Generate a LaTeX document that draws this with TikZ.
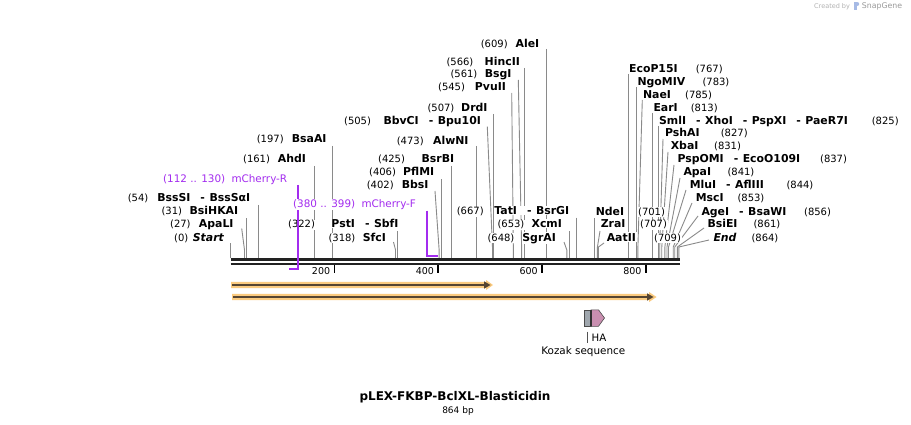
\documentclass[tikz,border=0pt]{standalone}
\usepackage{fontspec}
\setmainfont{DejaVu Sans}
\pgfdeclarelayer{bg}
\pgfsetlayers{bg,main}
\definecolor{leadgray}{HTML}{8A8A8A}
\definecolor{primer}{HTML}{A32CEF}
\definecolor{featorange}{HTML}{FBCB80}
\definecolor{featdark}{HTML}{564532}
\definecolor{kozak}{HTML}{A0A7AE}
\definecolor{hapink}{HTML}{C98FB0}
\definecolor{backbone}{HTML}{222222}
\newcommand{\sx}[1]{230.5+0.519*#1}
\newcommand{\dsh}{\hspace{10pt}-\hspace{4.5pt}}
% left-side enzyme label: id, y, numx, num, nameR, name, px, py, bp
\newcommand{\Lenz}[9]{%
  \node[numtxt, anchor=base west] (#1-p) at ({#3},{#2+3.7}) {#4};
  \node[enztxt, anchor=base east] (#1-n) at ({#5},{#2+3.7}) {#6};
  \coordinate (#1-a) at ({#7},{#8});
  \coordinate (#1-b) at ({\sx{#9}},250);
  \coordinate (#1-s) at ({\sx{#9}},258);
  \begin{pgfonlayer}{bg}\draw[leader] (#1-a) -- (#1-b) -- (#1-s);\end{pgfonlayer}
}
% right-side enzyme label: id, y, namex, name, numx, num, px, py, bp
\newcommand{\Renz}[9]{%
  \node[enztxt, anchor=base west] (#1-n) at ({#3},{#2+3.7}) {#4};
  \node[numtxt, anchor=base west] (#1-p) at ({#5},{#2+3.7}) {#6};
  \coordinate (#1-a) at ({#7},{#8});
  \coordinate (#1-b) at ({\sx{#9}},247);
  \coordinate (#1-s) at ({\sx{#9}},258);
  \begin{pgfonlayer}{bg}\draw[leader] (#1-a) -- (#1-b) -- (#1-s);\end{pgfonlayer}
}
\begin{document}
\begin{tikzpicture}[x=1pt,y=-1pt,
  numtxt/.style={font=\fontsize{10}{12}\selectfont, inner sep=0.6pt, fill=white},
  enztxt/.style={font=\fontsize{10.9}{12}\selectfont\bfseries, inner sep=0.6pt, fill=white},
  primtxt/.style={font=\fontsize{10.4}{12}\selectfont, inner sep=0.6pt, text=primer, fill=white},
  leader/.style={draw=leadgray, line width=0.9pt},
  bb/.style={draw=backbone, line width=2.3pt},
  tickln/.style={draw=black, line width=1.6pt},
  ticktxt/.style={font=\fontsize{9.5}{11}\selectfont, inner sep=0pt, anchor=base east},
  primln/.style={draw=primer, line width=1.8pt}]
\begin{pgfonlayer}{bg}
\useasboundingbox[fill=white] (0,0) rectangle (911,425);
\end{pgfonlayer}

% backbone
\coordinate (bbL1) at (230.5,259.5); \coordinate (bbR1) at (680,259.5);
\coordinate (bbL2) at (230.5,263.9); \coordinate (bbR2) at (680,263.9);
\draw[bb] (bbL1) -- (bbR1);
\draw[bb] (bbL2) -- (bbR2);

% ticks
\foreach \v in {200,400,600,800}{
  \coordinate (t\v a) at ({\sx{\v}},265);
  \coordinate (t\v b) at ({\sx{\v}},272.5);
  \draw[tickln] (t\v a) -- (t\v b);
  \node[ticktxt] (tl\v) at ({\sx{\v}-4},274.2) {\v};
}

% left-side labels
\Lenz{st}{237.3}{173.3}{(0)}{225}{\textit{Start}}{\sx{0}}{243.3}{0}
\Lenz{apali}{224.3}{169.3}{(27)}{234.3}{ApaLI}{241.7}{228.5}{27}
\Lenz{bsihkai}{211}{160.7}{(31)}{239}{BsiHKAI}{\sx{31}}{218.3}{31}
\Lenz{bsssi}{198.3}{127}{(54)}{251}{BssSI\dsh BssSαI}{\sx{54}}{205}{54}
\Lenz{ahdi}{159.3}{242.3}{(161)}{306.7}{AhdI}{\sx{161}}{166}{161}
\Lenz{bsaai}{139.3}{256}{(197)}{327.3}{BsaAI}{\sx{197}}{146}{197}
\Lenz{psti}{224}{287.3}{(322)}{399.3}{PstI\dsh SbfI}{\sx{322}}{231}{322}
\Lenz{sfci}{237.3}{327.7}{(318)}{386.7}{SfcI}{393.5}{242}{318}
\Lenz{bbsi}{185}{366}{(402)}{429.3}{BbsI}{435}{191}{402}
\Lenz{pflmi}{172.3}{368.3}{(406)}{435}{PflMI}{\sx{406}}{179.3}{406}
\Lenz{bsrbi}{159}{377.3}{(425)}{455}{BsrBI}{\sx{425}}{166}{425}
\Lenz{alwni}{140.7}{396}{(473)}{469.3}{AlwNI}{\sx{473}}{146}{473}
\Lenz{bbvci}{120.7}{343.3}{(505)}{481.7}{BbvCI\dsh Bpu10I}{487.3}{126.7}{505}
\Lenz{drdi}{108}{426.7}{(507)}{488.3}{DrdI}{\sx{507}}{114}{507}
\Lenz{pvuii}{87.3}{437.3}{(545)}{506.7}{PvuII}{511.7}{93}{545}
\Lenz{bsgi}{74}{449.7}{(561)}{512.3}{BsgI}{518.3}{80}{561}
\Lenz{hincii}{62.3}{445.7}{(566)}{520.7}{HincII}{\sx{566}}{68}{566}
\Lenz{alei}{44}{480}{(609)}{540}{AleI}{\sx{609}}{49}{609}
\Lenz{tati}{211}{456}{(667)}{570}{TatI\dsh BsrGI}{\sx{667}}{217.7}{667}
\Lenz{xcmi}{224}{496.7}{(653)}{562.7}{XcmI}{\sx{653}}{231}{653}
\Lenz{sgrai}{237.3}{486.7}{(648)}{556.7}{SgrAI}{564}{242}{648}

% right-side labels
\Renz{ndei}{211.7}{595}{NdeI}{637.3}{(701)}{\sx{701}}{218.3}{701}
\Renz{zrai}{224.3}{600}{ZraI}{639.3}{(707)}{600}{231}{707}
\Renz{aatii}{237.3}{606}{AatII}{653.3}{(709)}{604}{243}{709}
\Renz{ecop}{69}{628.3}{EcoP15I}{695}{(767)}{\sx{767}}{74}{767}
\Renz{ngo}{81.7}{636.7}{NgoMIV}{701.7}{(783)}{\sx{783}}{87}{783}
\Renz{nae}{95}{642.3}{NaeI}{684.3}{(785)}{642.3}{100}{785}
\Renz{ear}{108.3}{652.7}{EarI}{690}{(813)}{\sx{813}}{113}{813}
\Renz{sml}{121}{658.3}{SmlI\dsh XhoI\dsh PspXI\dsh PaeR7I}{871}{(825)}{\sx{825}}{126}{825}
\Renz{psh}{133.3}{664.3}{PshAI}{720}{(827)}{663}{139}{827}
\Renz{xba}{146}{670}{XbaI}{713.3}{(831)}{668}{152}{831}
\Renz{pspo}{159}{676.7}{PspOMI\dsh EcoO109I}{819.3}{(837)}{674}{165}{837}
\Renz{apai}{172.3}{682.7}{ApaI}{726.7}{(841)}{680}{178}{841}
\Renz{mlu}{185}{689}{MluI\dsh AflIII}{785.7}{(844)}{686}{190}{844}
\Renz{msc}{198.3}{695}{MscI}{736.7}{(853)}{692}{203}{853}
\Renz{age}{211.7}{700.7}{AgeI\dsh BsaWI}{803.3}{(856)}{698}{216}{856}
\Renz{bsie}{224.3}{706.7}{BsiEI}{752.7}{(861)}{704}{228}{861}
\Renz{endl}{237.3}{712.7}{\textit{End}}{750.7}{(864)}{709}{240}{864}

% primers
\node[primtxt, anchor=base west] (mcrp) at (162.3,182.7) {(112 .. 130)};
\node[primtxt, anchor=base west] (mcrn) at (230.7,182.7) {mCherry-R};
\coordinate (mcr1) at (298.3,185); \coordinate (mcr2) at (298.3,269); \coordinate (mcr3) at (288.5,269);
\draw[primln] (mcr1) -- (mcr2) -- (mcr3);
\node[primtxt, anchor=base west] (mcfp) at (292.3,207.7) {(380 .. 399)};
\node[primtxt, anchor=base west] (mcfn) at (360.7,207.7) {mCherry-F};
\coordinate (mcf1) at (427.3,210.7); \coordinate (mcf2) at (427.3,256); \coordinate (mcf3) at (437.7,256);
\draw[primln] (mcf1) -- (mcf2) -- (mcf3);

% features (arrows)
\fill[featorange] (231,281.8) -- (486,281.8) -- (486,280) -- (493,285) -- (486,290) -- (486,288.2) -- (231,288.2) -- cycle;
\coordinate (f1a) at (232,285); \coordinate (f1b) at (485,285);
\draw[featdark, line width=1.6pt] (f1a) -- (f1b);
\fill[featdark] (484,281.3) -- (490.5,285) -- (484,288.7) -- cycle;

\fill[featorange] (232,293.8) -- (649,293.8) -- (649,292) -- (656.5,297) -- (649,302) -- (649,300.2) -- (232,300.2) -- cycle;
\coordinate (f2a) at (233,297); \coordinate (f2b) at (648,297);
\draw[featdark, line width=1.6pt] (f2a) -- (f2b);
\fill[featdark] (647,293.3) -- (653.5,297) -- (647,300.7) -- cycle;

% Kozak + HA
\node[draw=black!70, fill=kozak, line width=0.6pt, minimum width=7pt, minimum height=16.5pt, inner sep=0pt, anchor=north west] (koz) at (584,309.8) {};
\draw[draw=black!70, fill=hapink, line width=0.6pt] (591,309.8) -- (598.5,309.8) -- (604.5,318) -- (598.5,326.3) -- (591,326.3) -- cycle;
\draw[draw=black!80, line width=1.4pt] (591,309.8) -- (591,326.3);
\coordinate (ha1) at (587.7,331.7); \coordinate (ha2) at (587.7,343.3);
\draw[leadgray!60!black, line width=0.8pt] (ha1) -- (ha2);
\node[font=\fontsize{10.2}{12}\selectfont, inner sep=0pt, anchor=base west] (hatxt) at (591.5,341.3) {HA};
\node[font=\fontsize{10.4}{12}\selectfont, inner sep=0pt, anchor=base] (koztxt) at (583.3,354.7) {Kozak sequence};

% title
\node[font=\fontsize{12}{14}\selectfont\bfseries, inner sep=0pt, anchor=base] (title) at (455,400.4) {pLEX-FKBP-BclXL-Blasticidin};
\node[font=\fontsize{9}{11}\selectfont, inner sep=0pt, anchor=base] (bp) at (458,413.3) {864 bp};

% watermark
\node[font=\fontsize{6.5}{8}\selectfont, text=black!30, inner sep=0pt, anchor=base west] (cby) at (814,8.3) {Created by};
\fill[cyan!45!blue!35] (854,2) rectangle (856.5,10.5);
\fill[cyan!45!blue!35] (856.5,2) .. controls (860,2) and (860,6.5) .. (856.5,6.5) -- cycle;
\node[font=\fontsize{7.8}{9}\selectfont, text=black!40, inner sep=0pt, anchor=base west] (sg) at (861.7,8.9) {SnapGene};
\end{tikzpicture}
\end{document}
